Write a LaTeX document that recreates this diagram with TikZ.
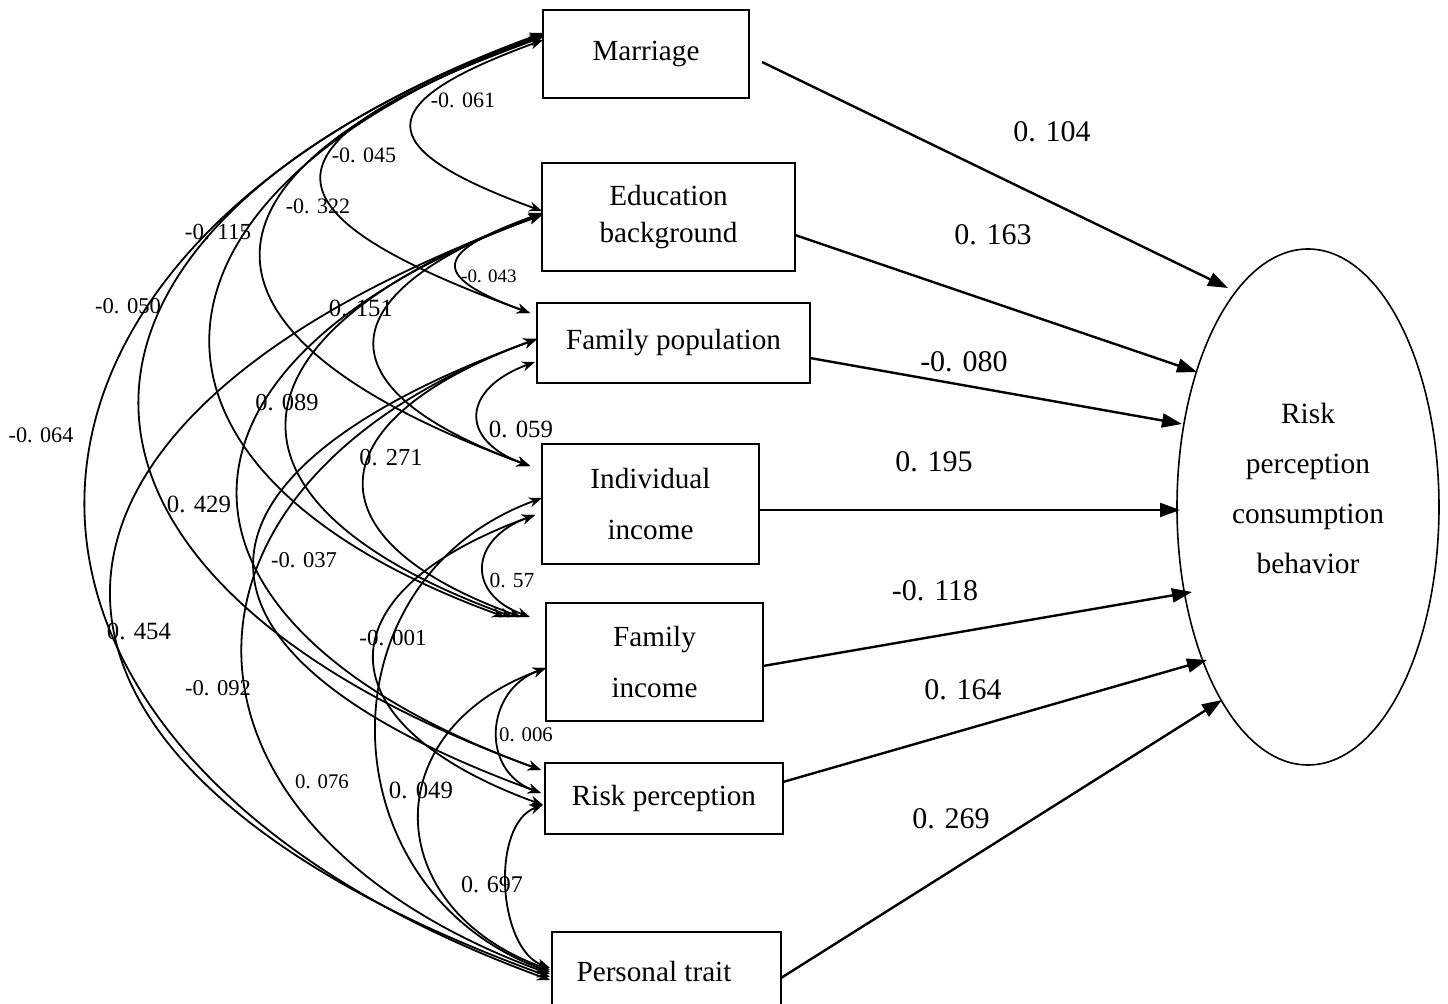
\documentclass[tikz,border=0pt]{standalone}
\usepackage{fontspec}
\setmainfont{Liberation Serif}
\usetikzlibrary{arrows.meta,shapes.geometric}
\newcommand\covc[3]{\draw[cov] (#1) .. controls +(160:#3) and +(200:#3) .. (#2);}
\begin{document}
\begin{tikzpicture}[x=0.5pt,y=-0.5pt,
  box/.style={draw, line width=1pt, inner sep=0pt, align=center, font=\fontsize{14.6}{18.5}\selectfont},
  cov/.style={line width=0.9pt, {Stealth[length=6.5pt,width=5pt]}-{Stealth[length=6.5pt,width=5pt]}},
  effarrow/.style={line width=1.2pt, -{Triangle[length=10pt,width=7pt]}},
  clab/.style={inner sep=0pt, font=\fontsize{#1}{#1}\selectfont},
  clab/.default=11.5,
  elab/.style={inner sep=0pt, font=\fontsize{15}{15}\selectfont}]
\useasboundingbox (0,0) rectangle (1448,1004);
\clip (0,0) rectangle (1448,1004);
% boxes
\node[box, minimum width=103pt, minimum height=44pt] (mar) at (646,54) {Marriage};
\node[box, minimum width=126.5pt, minimum height=54pt] (edu) at (668.5,217.5) {\raisebox{-2pt}{Education}\\\raisebox{-2pt}{background}};
\node[box, minimum width=136.5pt, minimum height=40pt] (fpop) at (673.5,343) {Family population};
\node[box, minimum width=108.5pt, minimum height=60pt] (iinc) at (650.5,504) {Individual\\[7pt]income};
\node[box, minimum width=108.5pt, minimum height=59pt] (finc) at (654.5,662) {Family\\[7pt]income};
\node[box, minimum width=119pt, minimum height=35.5pt] (risk) at (664,798.5) {Risk perception};
\node[box, minimum width=114.5pt, minimum height=40pt] (ptr) at (666.5,972) {Personal trait\hspace*{12.5pt}};
% ellipse
\node[draw, ellipse, line width=0.8pt, inner sep=0pt, minimum width=131pt, minimum height=258pt] (rpcb) at (1308,507) {};
\node[align=center, inner sep=0pt, font=\fontsize{14.7}{25}\selectfont] (rpcbt) at (1308,488) {Risk\\perception\\consumption\\behavior};
% covariance end points
\coordinate (m1) at (543,40); \coordinate (m2) at (543,37); \coordinate (m3) at (543,36);
\coordinate (m4) at (543,35); \coordinate (m5) at (543,34); \coordinate (m6) at (543,33);
\coordinate (e0) at (542,211); \coordinate (e1) at (542,213); \coordinate (e2) at (542,214);
\coordinate (e3) at (542,214); \coordinate (e4) at (542,215); \coordinate (e5) at (542,215);
\coordinate (fpa) at (530,313); \coordinate (fpb) at (537,339); \coordinate (fpc) at (535,362);
\coordinate (iia) at (530,466); \coordinate (iib) at (542,498); \coordinate (iic) at (535,515);
\coordinate (fi1) at (505,617); \coordinate (fi2) at (513,617); \coordinate (fi3) at (521,617);
\coordinate (fi4) at (530,617); \coordinate (fib) at (546,668);
\coordinate (rpa) at (541,770); \coordinate (rpb) at (541,793); \coordinate (rpc) at (543,805);
\coordinate (pt1) at (550,968); \coordinate (pt2) at (550,970); \coordinate (pt3) at (550,972);
\coordinate (pt4) at (550,974); \coordinate (pt5) at (550,977); \coordinate (pt6) at (550,980);
% covariance curves
\covc{m1}{e0}{185}
\covc{m2}{fpa}{304}
\covc{m3}{iia}{390}
\covc{m4}{fi1}{443}
\covc{m5}{rpa}{570}
\covc{m6}{pt6}{653}
\covc{e1}{fpa}{112}
\covc{e2}{iia}{228}
\covc{e3}{fi2}{340}
\covc{e4}{rpa}{430}
\covc{e5}{pt5}{616}
\covc{fpc}{iia}{77}
\covc{fpb}{fi3}{233}
\covc{fpb}{rpb}{403}
\covc{fpb}{pt4}{426}
\covc{iic}{fi4}{69}
\covc{iic}{rpc}{233}
\covc{iib}{pt3}{240}
\covc{fib}{rpb}{65}
\covc{fib}{pt2}{182}
\covc{rpc}{pt1}{56}
% covariance labels
\node[clab=11] (c1) at (463,100) {-0. 061};
\node[clab=11] (c2) at (364,155) {-0. 045};
\node[clab=11] (c3) at (318,206) {-0. 322};
\node[clab=11.5] (c4) at (218,232) {-0. 115};
\node[clab=11.3] (c5) at (128,306) {-0. 050};
\node[clab=11.1] (c6) at (41,435) {-0. 064};
\node[clab=9.5] (c7) at (489,276) {-0. 043};
\node[clab=12.4] (c8) at (361,308) {0. 151};
\node[clab=12.2] (c9) at (287,403) {0. 089};
\node[clab=12.4] (c10) at (521,429) {0. 059};
\node[clab=12.2] (c11) at (391,458) {0. 271};
\node[clab=12.4] (c12) at (199,504) {0. 429};
\node[clab=11.3] (c13) at (304,560) {-0. 037};
\node[clab=10.75] (c14) at (512,581) {0. 57};
\node[clab=12.4] (c15) at (139,631) {0. 454};
\node[clab=11.5] (c16) at (393,638) {-0. 001};
\node[clab=11.3] (c17) at (218,688) {-0. 092};
\node[clab=10.4] (c18) at (526,735) {0. 006};
\node[clab=10.4] (c19) at (322,782) {0. 076};
\node[clab=12.4] (c20) at (421,790) {0. 049};
\node[clab=12] (c21) at (492,885) {0. 697};
% effect arrows
\coordinate (a1s) at (762,62);  \coordinate (a1e) at (1228,288);
\coordinate (a2s) at (795,235); \coordinate (a2e) at (1197,372);
\coordinate (a3s) at (810,358); \coordinate (a3e) at (1182,424);
\coordinate (a4s) at (759,510); \coordinate (a4e) at (1180,510);
\coordinate (a5s) at (763,666); \coordinate (a5e) at (1192,592);
\coordinate (a6s) at (783,782); \coordinate (a6e) at (1207,660);
\coordinate (a7s) at (781,978); \coordinate (a7e) at (1222,700);
\draw[effarrow] (a1s) -- (a1e);
\draw[effarrow] (a2s) -- (a2e);
\draw[effarrow] (a3s) -- (a3e);
\draw[effarrow] (a4s) -- (a4e);
\draw[effarrow] (a5s) -- (a5e);
\draw[effarrow] (a6s) -- (a6e);
\draw[effarrow] (a7s) -- (a7e);
\node[elab] (r1) at (1052,132) {0. 104};
\node[elab] (r2) at (993,235) {0. 163};
\node[elab] (r3) at (964,362) {-0. 080};
\node[elab] (r4) at (934,462) {0. 195};
\node[elab] (r5) at (935,591) {-0. 118};
\node[elab] (r6) at (963,690) {0. 164};
\node[elab] (r7) at (951,819) {0. 269};
\end{tikzpicture}
\end{document}
